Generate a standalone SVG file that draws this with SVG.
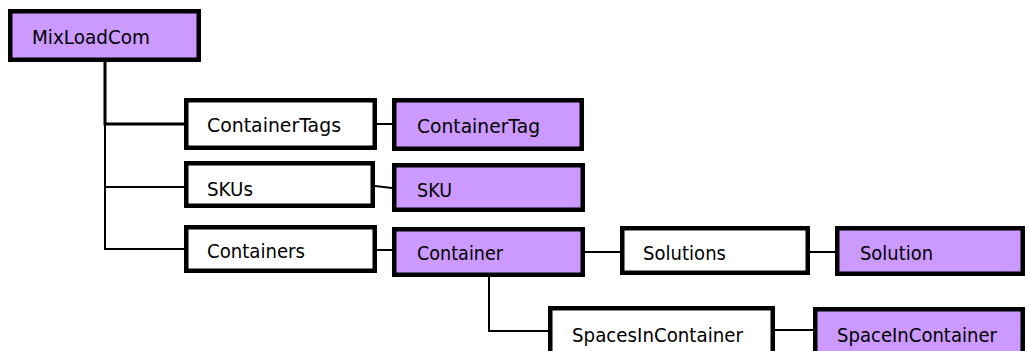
<svg xmlns="http://www.w3.org/2000/svg" width="1027" height="351" viewBox="0 0 1027 351">
<style>
.n{stroke:#000;stroke-width:4.5}
.p{fill:#CC99FF}
.w{fill:#FFFFFF}
.t{font-family:"DejaVu Sans",Verdana,sans-serif;font-size:19px;fill:#000}
.c{fill:none;stroke:#000;stroke-width:2}
</style>
<rect width="1027" height="351" fill="#FFFFFF"/>
<g id="connectors">
<path class="c" d="M105 62 V124 H184" style="stroke-width:3"/>
<path class="c" d="M105 62 V187 H184"/>
<path class="c" d="M105 62 V249 H184"/>
<path class="c" d="M377 124 H392"/>
<path class="c" d="M375 186 L392 188"/>
<path class="c" d="M377 250 H392"/>
<path class="c" d="M585 252 H620"/>
<path class="c" d="M810 252 H835"/>
<path class="c" d="M489 277 V331 H548"/>
<path class="c" d="M775 330 H813"/>
</g>
<g id="MixLoadCom"><rect class="n p" x="10.25" y="11.25" width="188.5" height="48.5"/><text class="t" x="32" y="44" textLength="118" lengthAdjust="spacingAndGlyphs">MixLoadCom</text></g>
<g id="ContainerTags"><rect class="n w" x="186.25" y="100.25" width="188.5" height="47.5"/><text class="t" x="207" y="132" textLength="134" lengthAdjust="spacingAndGlyphs">ContainerTags</text></g>
<g id="ContainerTag"><rect class="n p" x="394.25" y="100.25" width="187.5" height="48.5"/><text class="t" x="417" y="133" textLength="123" lengthAdjust="spacingAndGlyphs">ContainerTag</text></g>
<g id="SKUs"><rect class="n w" x="186.25" y="163.25" width="186.5" height="42.5"/><text class="t" x="207" y="196" textLength="46" lengthAdjust="spacingAndGlyphs">SKUs</text></g>
<g id="SKU"><rect class="n p" x="394.25" y="165.25" width="188.5" height="44.5"/><text class="t" x="417" y="197" textLength="35" lengthAdjust="spacingAndGlyphs">SKU</text></g>
<g id="Containers"><rect class="n w" x="186.25" y="227.25" width="188.5" height="43.5"/><text class="t" x="207" y="258" textLength="98" lengthAdjust="spacingAndGlyphs">Containers</text></g>
<g id="Container"><rect class="n p" x="394.25" y="229.25" width="188.5" height="45.5"/><text class="t" x="417" y="260" textLength="86" lengthAdjust="spacingAndGlyphs">Container</text></g>
<g id="Solutions"><rect class="n w" x="622.25" y="228.25" width="185.5" height="44.5"/><text class="t" x="643" y="260" textLength="83" lengthAdjust="spacingAndGlyphs">Solutions</text></g>
<g id="Solution"><rect class="n p" x="837.25" y="228.25" width="185.5" height="45.5"/><text class="t" x="860" y="260" textLength="73" lengthAdjust="spacingAndGlyphs">Solution</text></g>
<g id="SpacesInContainer"><rect class="n w" x="550.25" y="308.25" width="222.5" height="60"/><text class="t" x="572" y="342" textLength="171" lengthAdjust="spacingAndGlyphs">SpacesInContainer</text></g>
<g id="SpaceInContainer"><rect class="n p" x="815.25" y="309.25" width="207.5" height="60"/><text class="t" x="837" y="342" textLength="160" lengthAdjust="spacingAndGlyphs">SpaceInContainer</text></g>
</svg>
